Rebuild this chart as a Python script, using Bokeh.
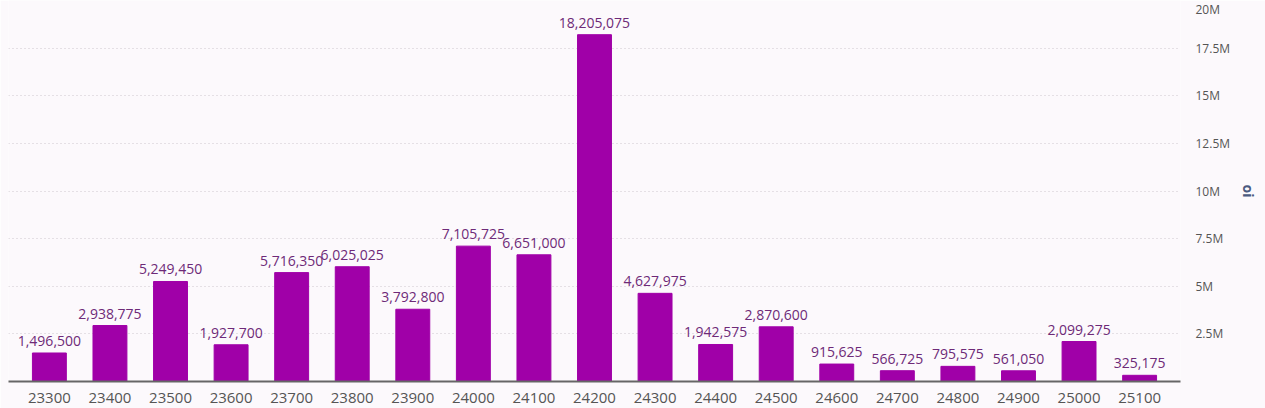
from bokeh.plotting import figure
from bokeh.models import ColumnDataSource, FactorRange, Range1d, LinearAxis, CustomJSTickFormatter, FixedTicker, LabelSet
from bokeh.core.properties import value
from bokeh.embed import file_html
from bokeh.resources import INLINE

strikes = ["23300", "23400", "23500", "23600", "23700", "23800", "23900", "24000", "24100", "24200",
           "24300", "24400", "24500", "24600", "24700", "24800", "24900", "25000", "25100"]
oi = [1496500, 2938775, 5249450, 1927700, 5716350, 6025025, 3792800, 7105725, 6651000, 18205075,
      4627975, 1942575, 2870600, 915625, 566725, 795575, 561050, 2099275, 325175]
tick_values = [2500000, 5000000, 7500000, 10000000, 12500000, 15000000, 17500000, 20000000]

labels = [f"{v:,}" for v in oi]
src = ColumnDataSource(dict(strike=strikes, oi=oi, label=labels))

p = figure(x_range=FactorRange(*strikes, range_padding=0.175, range_padding_units="absolute"),
           y_range=Range1d(0, 20000000),
           width=1265, height=408, output_backend="svg", toolbar_location=None,
           y_axis_location=None, min_border_left=8, min_border_top=0, min_border_bottom=27,
           min_border_right=85, background_fill_color="#fcf9fc", border_fill_color="#fcf9fc")
p.outline_line_color = None

p.vbar(x="strike", top="oi", width=0.56, source=src, color="#a000a8")

p.add_layout(LabelSet(x="strike", y="oi", text="label", source=src, text_align="center",
                      text_baseline="bottom", y_offset=7, text_font_size="14px",
                      text_color="#6e2a78", text_font=value("Open Sans")))

yax = LinearAxis(axis_label="oi", ticker=FixedTicker(ticks=tick_values),
                 formatter=CustomJSTickFormatter(code="return (tick/1e6) + 'M';"))
yax.axis_line_color = None
yax.major_tick_line_color = None
yax.minor_tick_line_color = None
yax.major_label_text_font = "Open Sans"
yax.major_label_text_font_size = "12px"
yax.major_label_text_color = "#555555"
yax.major_label_standoff = 9
yax.axis_label_text_font = "Open Sans"
yax.axis_label_text_font_size = "14px"
yax.axis_label_text_font_style = "bold"
yax.axis_label_text_color = "#4a5a80"
yax.axis_label_standoff = 6
p.add_layout(yax, "right")

p.ygrid.ticker = FixedTicker(ticks=tick_values)
p.ygrid.grid_line_color = "#cfc6cf"
p.ygrid.grid_line_dash = "1 3"
p.xgrid.grid_line_color = None

p.xaxis.axis_line_color = "#666666"
p.xaxis.axis_line_width = 2
p.xaxis.major_tick_line_color = None
p.xaxis.minor_tick_line_color = None
p.xaxis.major_label_text_font = "Open Sans"
p.xaxis.major_label_text_font_size = "15px"
p.xaxis.major_label_text_color = "#555555"
p.xaxis.major_label_standoff = 5

open("out.html", "w").write(file_html(p, INLINE))
